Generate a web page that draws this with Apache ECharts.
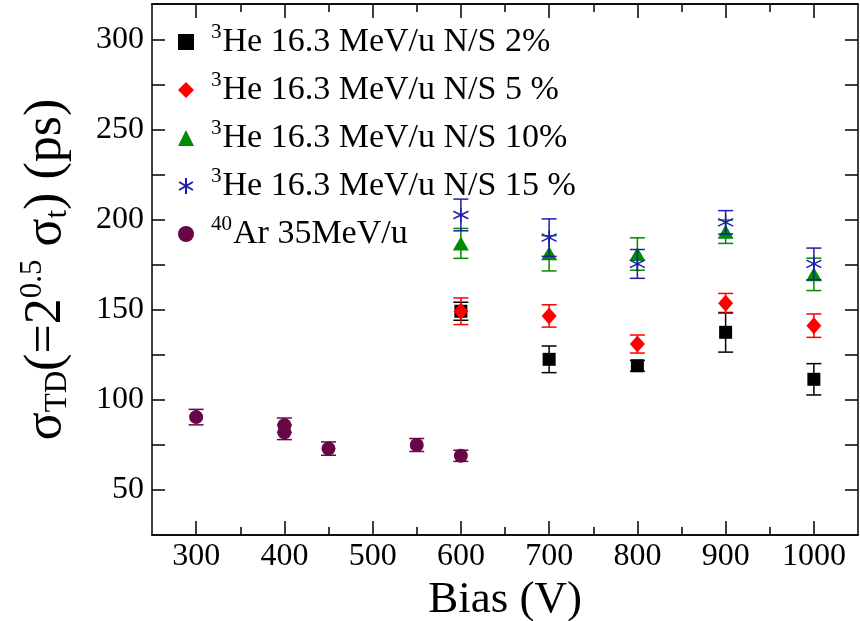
<!DOCTYPE html>
<html><head><meta charset="utf-8">
<script src="https://cdn.jsdelivr.net/npm/echarts@6/dist/echarts.min.js"></script>
<style>html,body{margin:0;padding:0;background:#fff}#c{width:860px;height:621px}</style>
</head><body><div id="c"></div>
<script>
// ---- data ----
const xTicks = [300, 400, 500, 600, 700, 800, 900, 1000];
const xMinor = [350, 450, 550, 650, 750, 850, 950];
const yTicks = [50, 100, 150, 200, 250, 300];
const yAllTicks = [50, 75, 100, 125, 150, 175, 200, 225, 250, 275, 300];

const biasHe = [600, 700, 800, 900, 1000];
const ns2 = [149.3, 122.6, 119.0, 137.6, 111.5];
const ns2Err = [5.0, 7.4, 3.0, 11.0, 8.7];
const ns5 = [149.3, 146.7, 131.1, 153.7, 141.3];
const ns5Err = [7.4, 6.2, 5.0, 5.5, 6.5];
const ns10 = [187.0, 181.5, 181.1, 193.5, 169.8];
const ns10Err = [8.3, 9.8, 9.0, 6.5, 9.0];
const ns15 = [202.8, 190.2, 175.6, 198.7, 175.6];
const ns15Err = [8.8, 10.4, 8.0, 6.5, 8.8];

const biasAr = [300, 400, 400, 450, 550, 600];
const ar = [90.5, 86.0, 82.0, 73.0, 75.0, 69.0];
const arErr = [4.3, 4.0, 4.0, 3.7, 3.6, 3.1];

const legendSup = ['3', '3', '3', '3', '40'];
const legendBody = ['He 16.3 MeV/u N/S 2%', 'He 16.3 MeV/u N/S 5 %', 'He 16.3 MeV/u N/S 10%', 'He 16.3 MeV/u N/S 15 %', 'Ar 35MeV/u'];
const names = legendSup.map((s, i) => s + legendBody[i]);

// ---- chart ----
const FONT = '"Liberation Serif", "DejaVu Serif", serif';
const colors = ['#000000', '#ff0000', '#008b00', '#1c1cb0', '#670748'];
const starPath = 'path://M10,0 L10,20 M1.34,5 L18.66,15 M1.34,15 L18.66,5';

function errSeries(xs, ys, es, color, z) {
  return {
    type: 'custom', silent: true, z: z,
    data: xs.map((x, i) => [x, ys[i] - es[i], ys[i] + es[i]]),
    encode: { x: 0, y: [1, 2] },
    renderItem: function (params, api) {
      const lo = api.coord([api.value(0), api.value(1)]);
      const hi = api.coord([api.value(0), api.value(2)]);
      const w = 7.5;
      const st = { stroke: color, lineWidth: 1.5 };
      return {
        type: 'group', children: [
          { type: 'line', shape: { x1: lo[0], y1: lo[1], x2: hi[0], y2: hi[1] }, style: st },
          { type: 'line', shape: { x1: lo[0] - w, y1: lo[1], x2: lo[0] + w, y2: lo[1] }, style: st },
          { type: 'line', shape: { x1: hi[0] - w, y1: hi[1], x2: hi[0] + w, y2: hi[1] }, style: st }
        ]
      };
    }
  };
}
function pts(xs, ys) { return xs.map((x, i) => [x, ys[i]]); }

const axLine = { show: true, lineStyle: { color: '#000', width: 1.5 } };
const tickStyle = { color: '#000', width: 1.5 };
const labelStyle = { fontFamily: FONT, fontSize: 32, color: '#000', formatter: v => String(v) };

const option = {
  animation: false,
  backgroundColor: '#fff',
  grid: { left: 152, right: 2, top: 4, bottom: 86, containLabel: false, outerBoundsMode: 'none' },
  xAxis: [
    { type: 'value', min: 250, max: 1050, position: 'bottom', axisLine: axLine,
      axisTick: { show: true, inside: true, length: 14, customValues: xTicks, lineStyle: tickStyle },
      axisLabel: Object.assign({ customValues: xTicks, margin: 6 }, labelStyle),
      splitLine: { show: false },
      name: 'Bias (V)', nameLocation: 'middle', nameGap: 31,
      nameTextStyle: { fontFamily: FONT, fontSize: 45, color: '#000' } },
    { type: 'value', min: 250, max: 1050, position: 'bottom', axisLine: axLine,
      axisTick: { show: true, inside: true, length: 8, customValues: xMinor, lineStyle: tickStyle },
      axisLabel: { show: false }, splitLine: { show: false } },
    { type: 'value', min: 250, max: 1050, position: 'top', axisLine: axLine,
      axisTick: { show: true, inside: true, length: 14, customValues: xTicks, lineStyle: tickStyle },
      axisLabel: { show: false }, splitLine: { show: false } },
    { type: 'value', min: 250, max: 1050, position: 'top', axisLine: axLine,
      axisTick: { show: true, inside: true, length: 8, customValues: xMinor, lineStyle: tickStyle },
      axisLabel: { show: false }, splitLine: { show: false } }
  ],
  yAxis: [
    { type: 'value', min: 25, max: 320, position: 'left', axisLine: axLine,
      axisTick: { show: true, inside: true, length: 13, customValues: yAllTicks, lineStyle: tickStyle },
      axisLabel: Object.assign({ customValues: yTicks, margin: 8 }, labelStyle),
      splitLine: { show: false },
      name: '{m|σ}{s|TD}{m|(=2}{p|0.5}{m| σ}{s|t}{m|) (ps)}',
      nameLocation: 'middle', nameGap: 76,
      nameTextStyle: { fontFamily: FONT, color: '#000',
        rich: {
          m: { fontFamily: FONT, fontSize: 52, color: '#000' },
          s: { fontFamily: FONT, fontSize: 31, color: '#000', padding: [22, 0, 0, 0] },
          p: { fontFamily: FONT, fontSize: 31, color: '#000', padding: [0, 0, 28, 0] }
        } } },
    { type: 'value', min: 25, max: 320, position: 'right', axisLine: axLine,
      axisTick: { show: true, inside: true, length: 13, customValues: yAllTicks, lineStyle: tickStyle },
      axisLabel: { show: false }, splitLine: { show: false } }
  ],
  legend: {
    orient: 'vertical', left: 173, top: 17, itemWidth: 16, itemHeight: 16, itemGap: 11,
    data: names,
    formatter: function (n) { const i = names.indexOf(n); return '{g|}{u|' + legendSup[i] + '}{t|' + legendBody[i] + '}'; },
    textStyle: { fontFamily: FONT, fontSize: 34, color: '#000',
      rich: {
        g: { width: 12 },
        u: { fontFamily: FONT, fontSize: 21, color: '#000', padding: [0, 1, 19, 0] },
        t: { fontFamily: FONT, fontSize: 34, color: '#000', lineHeight: 35 }
      } }
  },
  series: [
    errSeries(biasHe, ns2, ns2Err, colors[0], 2),
    { type: 'scatter', name: names[0], data: pts(biasHe, ns2), symbol: 'rect', symbolSize: 13, itemStyle: { color: colors[0], opacity: 1 }, z: 3 },
    errSeries(biasHe, ns5, ns5Err, colors[1], 4),
    { type: 'scatter', name: names[1], data: pts(biasHe, ns5), symbol: 'diamond', symbolSize: [15, 17], itemStyle: { color: colors[1], opacity: 1 }, z: 5 },
    errSeries(biasHe, ns10, ns10Err, colors[2], 6),
    { type: 'scatter', name: names[2], data: pts(biasHe, ns10), symbol: 'triangle', symbolSize: [16, 14], itemStyle: { color: colors[2], opacity: 1 }, z: 7 },
    errSeries(biasHe, ns15, ns15Err, colors[3], 8),
    { type: 'scatter', name: names[3], data: pts(biasHe, ns15), symbol: starPath, symbolSize: 15, itemStyle: { color: 'rgba(0,0,0,0)', borderColor: colors[3], borderWidth: 1.5, opacity: 1 }, z: 9 },
    errSeries(biasAr, ar, arErr, colors[4], 10),
    { type: 'scatter', name: names[4], data: pts(biasAr, ar), symbol: 'circle', symbolSize: 14, itemStyle: { color: colors[4], opacity: 1 }, z: 11 }
  ]
};
const chart = echarts.init(document.getElementById('c'), null, { renderer: 'canvas' });
chart.setOption(option);
</script></body></html>
